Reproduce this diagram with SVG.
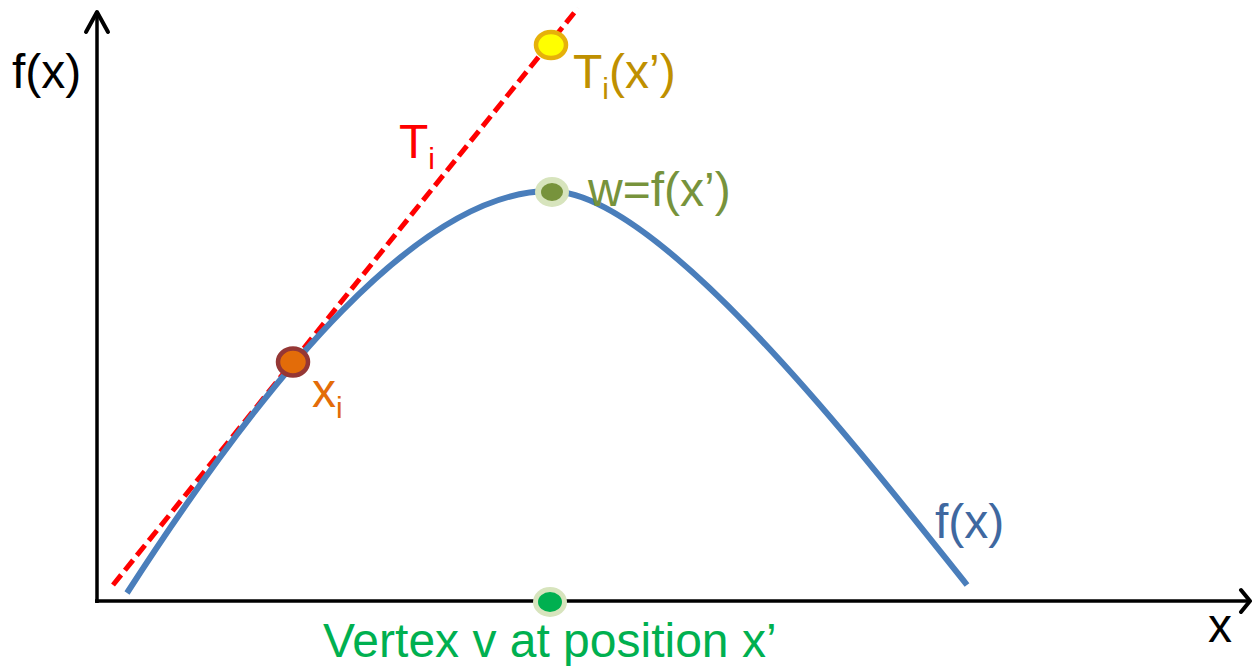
<svg xmlns="http://www.w3.org/2000/svg" width="1252" height="666" viewBox="0 0 1252 666">
<style>
text{font-family:"Liberation Sans",Arial,sans-serif;font-size:48px}
.sub{font-size:30px}
.axis{stroke:#000;stroke-width:3.5;fill:none}
.head{stroke:#000;stroke-width:4;fill:none;stroke-linecap:round;stroke-linejoin:round}
</style>
<rect width="1252" height="666" fill="#fff"/>
<g id="connectors">
<g id="axes">
<line class="axis" x1="97" y1="603" x2="97" y2="13"/>
<polyline class="head" points="86,32 97,12 108,32"/>
<line class="axis" x1="95" y1="601" x2="1248" y2="601"/>
<polyline class="head" points="1241,590 1250,601 1241,612"/>
</g>
<path id="tangent" d="M113,585 L578,8" stroke="#FF0000" stroke-width="5" stroke-dasharray="13,6" fill="none"/>
<path id="curve" d="M127,593 C267,376 420,191 550,191 C660,191 867,460 967,585" stroke="#4A7EBB" stroke-width="6" fill="none"/>
</g>
<g id="node-xi">
<ellipse cx="293" cy="362" rx="15" ry="13.5" fill="#E36C09" stroke="#953735" stroke-width="4.5"/>
<text x="312" y="407" fill="#E36C09">x<tspan class="sub" dy="11">i</tspan></text>
</g>
<g id="node-Tix">
<ellipse cx="551" cy="45" rx="15" ry="13" fill="#FFFF00" stroke="#E6B10A" stroke-width="4.5"/>
<text x="573" y="88" fill="#BF9000">T<tspan class="sub" dy="11">i</tspan><tspan dy="-11">(x’)</tspan></text>
</g>
<g id="node-w">
<ellipse cx="552" cy="192" rx="17" ry="15" fill="#D7E4BD"/>
<ellipse cx="552" cy="192" rx="11" ry="9" fill="#77933C"/>
<text x="588" y="206" fill="#77933C">w=f(x’)</text>
</g>
<g id="node-vertex">
<ellipse cx="550" cy="602" rx="17" ry="15" fill="#D7E4BD"/>
<ellipse cx="550" cy="602" rx="12" ry="10" fill="#00B050"/>
<text x="323" y="657" fill="#00B050">Vertex v at position x’</text>
</g>
<g id="label-Ti">
<text x="399" y="158" fill="#FF0000">T<tspan class="sub" dy="11">i</tspan></text>
</g>
<g id="label-fx-axis">
<text x="12" y="88" fill="#000">f(x)</text>
</g>
<g id="label-fx-curve">
<text x="935" y="538" fill="#3F68A0">f(x)</text>
</g>
<g id="label-x-axis">
<text x="1208" y="642" fill="#000">x</text>
</g>
</svg>
